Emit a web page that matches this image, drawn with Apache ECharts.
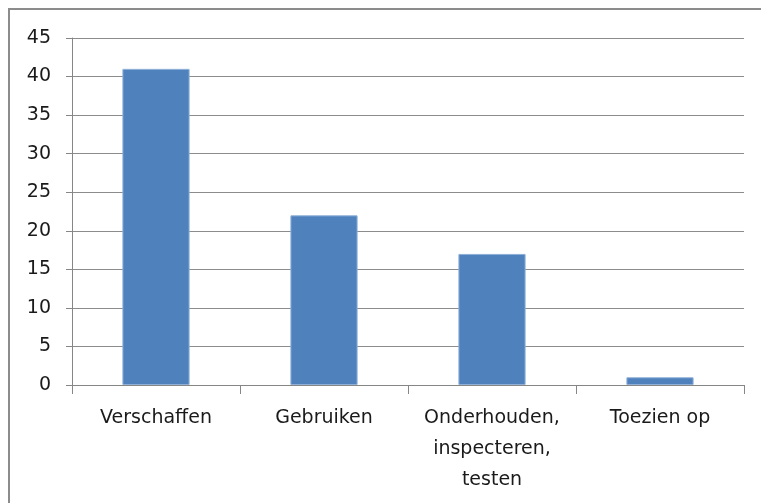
<!DOCTYPE html>
<html>
<head>
<meta charset="utf-8">
<script src="https://cdn.jsdelivr.net/npm/echarts@6/dist/echarts.min.js"></script>
<style>
  html, body { margin: 0; padding: 0; background: #fff; }
  #chart { width: 761px; height: 503px; }
</style>
</head>
<body>
<div id="chart"></div>
<script>
const categories = ['Verschaffen', 'Gebruiken', 'Onderhouden,\ninspecteren,\ntesten', 'Toezien op'];
const values = [41, 22, 17, 1];
const yTicks = [0, 5, 10, 15, 20, 25, 30, 35, 40, 45];

let chartDom = document.getElementById('chart');
let myChart = echarts.init(chartDom);

let option = {
  animation: false,
  graphic: [
    {
      type: 'rect',
      shape: { x: 9, y: 9, width: 800, height: 600 },
      style: { fill: 'none', stroke: '#8c8c8c', lineWidth: 2 },
      silent: true
    }
  ],
  grid: {
    left: 72,
    right: 17,
    top: 38,
    bottom: 118
  },
  xAxis: {
    type: 'category',
    data: categories,
    axisLine: { lineStyle: { color: '#868686', width: 1 } },
    axisTick: { show: true, length: 9, lineStyle: { color: '#868686' } },
    axisLabel: {
      color: '#1a1a1a',
      fontFamily: 'DejaVu Sans',
      fontSize: 19,
      lineHeight: 31,
      margin: 18,
      interval: 0
    }
  },
  yAxis: {
    type: 'value',
    min: yTicks[0],
    max: yTicks[yTicks.length - 1],
    interval: 5,
    axisLine: { show: true, lineStyle: { color: '#868686', width: 1 } },
    axisTick: { show: true, length: 6, lineStyle: { color: '#868686' } },
    splitLine: { lineStyle: { color: '#8c8c8c', width: 1 } },
    axisLabel: {
      color: '#1a1a1a',
      fontFamily: 'DejaVu Sans',
      fontSize: 19,
      margin: 21
    }
  },
  series: [
    {
      type: 'bar',
      data: values,
      barCategoryGap: '60%',
      itemStyle: {
        color: '#4f81bd',
        borderColor: '#8fb0d8',
        borderWidth: 1
      }
    }
  ]
};
option && myChart.setOption(option);
</script>
</body>
</html>
